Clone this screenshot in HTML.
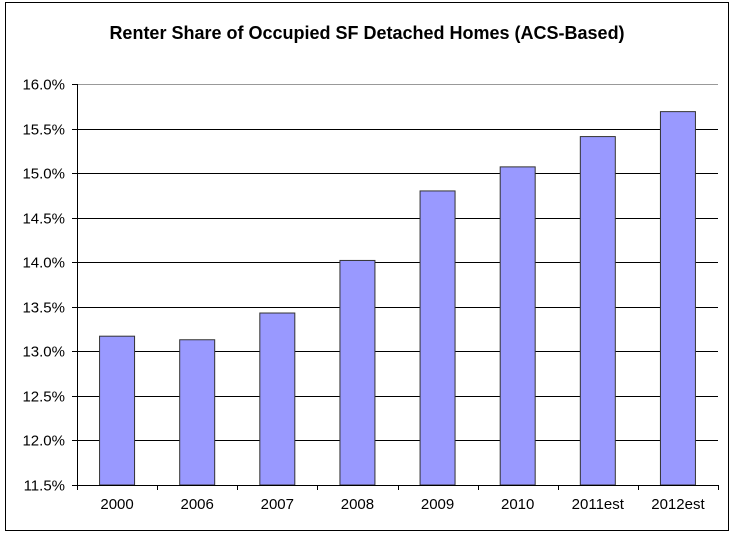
<!DOCTYPE html>
<html><head><meta charset="utf-8"><style>
body{margin:0;background:#fff;}
svg{display:block;font-family:"Liberation Sans",Arial,sans-serif;}
</style></head><body>
<svg id="chart" width="736" height="538">
<rect x="5.5" y="2.5" width="723" height="528" fill="#fff" stroke="#000"/>
<text x="367" y="39" text-anchor="middle" font-size="18" font-weight="bold">Renter Share of Occupied SF Detached Homes (ACS-Based)</text>
<g id="grid"></g><g id="bars"></g><g id="axes"></g>
</svg>
<script>
const categories=["2000","2006","2007","2008","2009","2010","2011est","2012est"];
const values=[13.17,13.13,13.43,14.02,14.80,15.07,15.41,15.69];
const yTicks=[11.5,12.0,12.5,13.0,13.5,14.0,14.5,15.0,15.5,16.0];
const NS="http://www.w3.org/2000/svg";
const L=77,R=718,T=84,B=485,yMin=11.5,yMax=16.0;
const cw=(R-L)/categories.length,bw=35;
function y(v){return B-(v-yMin)/(yMax-yMin)*(B-T);}
function x(i){return L+cw*(i+0.5);}
function mk(tag,at,parent,txt){const e=document.createElementNS(NS,tag);for(const k in at)e.setAttribute(k,at[k]);if(txt!==undefined)e.textContent=txt;document.getElementById(parent).appendChild(e);return e;}
yTicks.forEach(t=>{
  const yy=Math.round(y(t))+0.5;
  if(t>yMin){const g=mk('line',{x1:L,x2:R,y1:yy,y2:yy,stroke:t===yMax?'#999':'#000','stroke-width':1},'grid');
  
  }
  const tk=mk('line',{x1:L-5,x2:L,y1:yy,y2:yy,stroke:'#000'},'axes');
  
  
  const lb=mk('text',{x:L-12,y:yy+5,'text-anchor':'end','font-size':15},'axes',t.toFixed(1)+'%');
  
  
});
values.forEach((v,i)=>{
  const r=mk('rect',{x:x(i)-bw/2,y:y(v),width:bw,height:B-y(v),fill:'#9999ff',stroke:'#333','stroke-width':1},'bars');
  
  
  const lb=mk('text',{x:x(i),y:B+24,'text-anchor':'middle','font-size':15},'axes',categories[i]);
  
  
});
for(let i=0;i<=categories.length;i++){
  const xx=Math.round(L+cw*i)+0.5;
  const tk=mk('line',{x1:xx,x2:xx,y1:B,y2:B+5,stroke:'#000'},'axes');
  
  
}
const ya=mk('line',{x1:L+0.5,x2:L+0.5,y1:T,y2:B,stroke:'#000'},'axes');


const xa=mk('line',{x1:L,x2:R,y1:B+0.5,y2:B+0.5,stroke:'#000'},'axes');


</script>
</body></html>
